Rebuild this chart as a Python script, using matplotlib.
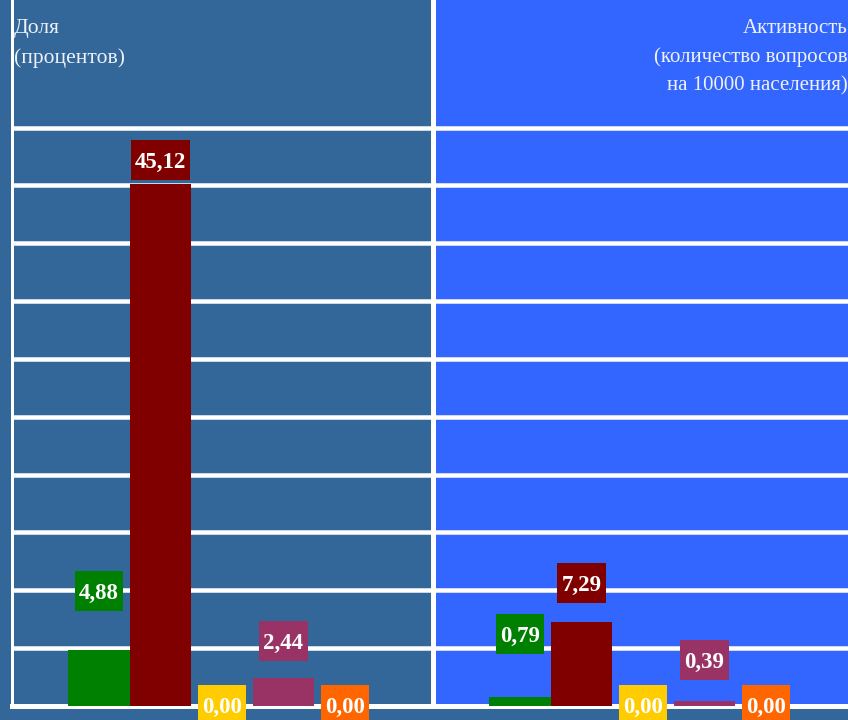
import matplotlib
matplotlib.use("Agg")
import matplotlib.pyplot as plt
from matplotlib.path import Path

# ---- data -------------------------------------------------------------
share_values = [4.88, 45.12, 0.00, 2.44, 0.00]        # Доля (процентов)
activity_values = [0.79, 7.29, 0.00, 0.39, 0.00]      # Активность
bar_colors = ["#008000", "#800000", "#FFCC00", "#993366", "#FF6600"]
left_title = ["Доля", "(процентов)"]
right_title = ["Активность", "(количество вопросов", "на 10000 населения)"]
grid_values = [5, 10, 15, 20, 25, 30, 35, 40, 45, 50]

# vertical lift of each value label above its bar top (data units)
share_label_lift = [4.86, 1.87, -0.11, 2.98, -0.11]
activity_label_lift = [5.23, 3.14, -0.11, 3.39, -0.11]

# ---- layout -----------------------------------------------------------
W, H, DPI = 848, 720, 100
BASE_PX = 706.0               # baseline, pixels from top
PX_PER_UNIT = 57.85 / 5.0
YMAX = BASE_PX / PX_PER_UNIT
SLOT_PX = 61.5
FIRST_PX = 87.5
AX_W = 421.0
SERIF = "Liberation Serif"

fig = plt.figure(figsize=(W / DPI, H / DPI), dpi=DPI, facecolor="#336699")


def label_box(x0, y0, width, height, mutation_size):
    padx = 0.185 * mutation_size
    half_h = 0.8725 * mutation_size
    cy = y0 + 0.555 * mutation_size
    xa, xb = x0 - padx, x0 + width + padx
    ya, yb = cy - half_h, cy + half_h
    return Path([(xa, ya), (xb, ya), (xb, yb), (xa, yb), (xa, ya)], closed=True)


def make_panel(left_px, bg, spine_px, values, lifts):
    ax = fig.add_axes([left_px / W, (H - BASE_PX) / H, AX_W / W, BASE_PX / H])
    ax.set_facecolor(bg)
    ax.set_xlim(-FIRST_PX / SLOT_PX, (AX_W - FIRST_PX) / SLOT_PX)
    ax.set_ylim(0, YMAX)
    ax.set_xticks([])
    ax.set_yticks([])
    for s in ("top", "right", "bottom"):
        ax.spines[s].set_visible(False)
    ax.spines["left"].set_color("white")
    ax.spines["left"].set_linewidth(spine_px * 72 / DPI)
    ax.spines["left"].set_zorder(4)
    for g in grid_values:
        ax.axhline(g, color="white", lw=4.5 * 72 / DPI, zorder=1)
    ax.axhline(0, color="white", lw=5 * 72 / DPI, zorder=1, clip_on=False)
    xs = list(range(len(values)))
    ax.bar(xs, values, width=1.0, color=bar_colors, zorder=2, linewidth=0)
    for x, v, lift, c in zip(xs, values, lifts, bar_colors):
        ax.text(x, v + lift, f"{v:.2f}".replace(".", ","), ha="center", va="center",
                fontsize=16.5, fontweight="bold", family=SERIF, color="white",
                bbox=dict(boxstyle=label_box, fc=c, ec="none"),
                zorder=5, clip_on=False)
    return ax


make_panel(11.5, "#336699", 3, share_values, share_label_lift)
make_panel(432.5, "#3366FF", 5, activity_values, activity_label_lift)

title_color = "#EEF2F8"
for line, base in zip(left_title, [33, 63]):
    fig.text(14 / W, 1 - base / H, line, ha="left", va="baseline",
             fontsize=15.5, family=SERIF, color=title_color)
for line, base in zip(right_title, [33, 62, 90]):
    fig.text(848 / W, 1 - base / H, line, ha="right", va="baseline",
             fontsize=15, family=SERIF, color=title_color)

fig.savefig("out.png", dpi=DPI, facecolor=fig.get_facecolor())
